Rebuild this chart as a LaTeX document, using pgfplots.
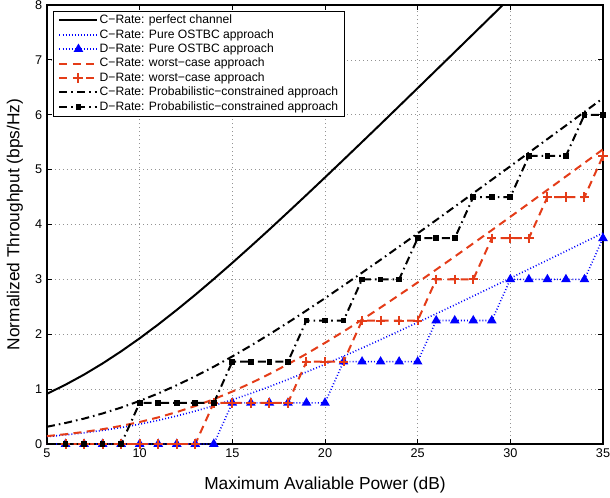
\documentclass[border=0pt]{standalone}
\usepackage{pgfplots}
\pgfplotsset{compat=1.18}
\usepackage{pgfplotstable}
\usepackage{fontspec}
\setmainfont{Liberation Sans}

\definecolor{mred}{RGB}{228,60,24}

% continuous rates (C-Rate)
\pgfplotstableread{
x  perfect ostbc worst prob
5  0.915   0.135 0.144 0.314
6  1.081   0.166 0.178 0.383
7  1.265   0.204 0.220 0.463
8  1.468   0.248 0.270 0.557
9  1.689   0.300 0.330 0.664
10 1.926   0.361 0.401 0.785
11 2.178   0.431 0.485 0.921
12 2.443   0.511 0.582 1.071
13 2.719   0.600 0.692 1.234
14 3.006   0.698 0.817 1.409
15 3.301   0.806 0.956 1.596
16 3.603   0.922 1.109 1.793
17 3.910   1.045 1.275 1.999
18 4.223   1.176 1.454 2.212
19 4.539   1.312 1.643 2.432
20 4.858   1.453 1.843 2.657
21 5.180   1.600 2.050 2.888
22 5.504   1.749 2.266 3.122
23 5.829   1.902 2.487 3.358
24 6.157   2.058 2.714 3.597
25 6.485   2.215 2.944 3.838
26 6.814   2.374 3.179 4.081
27 7.143   2.534 3.416 4.325
28 7.473   2.696 3.656 4.570
29 7.803   2.859 3.897 4.816
30 8.134   3.022 4.140 5.062
31 8.466   3.186 4.385 5.309
32 8.797   3.350 4.630 5.557
33 9.128   3.515 4.876 5.804
34 9.460   3.680 5.123 6.053
35 9.792   3.845 5.370 6.301
}\crate

% discrete rates (D-Rate)
\pgfplotstableread{
x  ostbc worst prob
5  0     0     0
6  0     0     0
7  0     0     0
8  0     0     0
9  0     0     0
10 0     0     0.75
11 0     0     0.75
12 0     0     0.75
13 0     0     0.75
14 0     0.75  0.75
15 0.75  0.75  1.5
16 0.75  0.75  1.5
17 0.75  0.75  1.5
18 0.75  0.75  1.5
19 0.75  1.5   2.25
20 0.75  1.5   2.25
21 1.5   1.5   2.25
22 1.5   2.25  3
23 1.5   2.25  3
24 1.5   2.25  3
25 1.5   2.25  3.75
26 2.25  3     3.75
27 2.25  3     3.75
28 2.25  3     4.5
29 2.25  3.75  4.5
30 3     3.75  4.5
31 3     3.75  5.25
32 3     4.5   5.25
33 3     4.5   5.25
34 3     4.5   6
35 3.75  5.25  6
}\drate

\begin{document}
\begin{tikzpicture}
\begin{axis}[
    name=ax,
    scale only axis,
    width=417pt, height=329.25pt,
    xmin=5, xmax=35, ymin=0, ymax=8,
    xtick={5,10,...,35}, ytick={0,1,...,8},
    grid=major,
    major grid style={dash pattern=on 0.6pt off 2.4pt, gray!85, line width=0.5pt},
    axis line style={line width=0.8pt},
    tick style={black, line width=0.6pt},
    major tick length=4pt,
    /pgf/number format/assume math mode=true,
    tick label style={font=\fontsize{9.5}{11}\selectfont},
    xlabel={Maximum Avaliable Power (dB)},
    ylabel={Normalized Throughput (bps/Hz)},
    label style={font=\fontsize{13}{15}\selectfont},
    xlabel style={at={(axis description cs:0.5,-0.0934)}, anchor=center},
    ylabel style={at={(axis description cs:-0.0576,0.5)}, anchor=center},
    legend cell align=left,
    legend image code/.code={\draw[mark repeat=2,mark phase=2] plot coordinates {(0pt,0pt) (14.25pt,0pt) (28.5pt,0pt)};},
    legend style={at={(axis description cs:0.0103,0.987)}, anchor=north west,
        font=\fontsize{9.1}{10}\selectfont, draw=black, line width=0.6pt,
        inner xsep=4pt, inner ysep=1.5pt, row sep=0pt,
        nodes={inner sep=0.9pt, text height=7pt, text depth=2pt}},
]
\addplot[black, line width=1.5pt] table[x=x, y=perfect] {\crate};
\addlegendentry{C−Rate: perfect channel}
\addplot[blue, line width=1.2pt, dash pattern=on 0.7pt off 1.6pt] table[x=x, y=ostbc] {\crate};
\addlegendentry{C−Rate: Pure OSTBC approach}
\addplot[blue, line width=1.2pt, dash pattern=on 0.7pt off 1.6pt, mark=triangle*, mark size=3pt, mark phase=2, mark options={solid}] table[x=x, y=ostbc] {\drate};
\addlegendentry{D−Rate: Pure OSTBC approach}
\addplot[mred, line width=1.5pt, dash pattern=on 6pt off 4pt] table[x=x, y=worst] {\crate};
\addlegendentry{C−Rate: worst−case approach}
\addplot[mred, line width=1.5pt, dash pattern=on 6pt off 4pt, mark=+, mark size=3.5pt, mark phase=2, mark options={solid, line width=1.5pt}] table[x=x, y=worst] {\drate};
\addlegendentry{D−Rate: worst−case approach}
\addplot[black, line width=1.5pt, dash pattern=on 6pt off 3pt on 1.2pt off 3pt] table[x=x, y=prob] {\crate};
\addlegendentry{C−Rate: Probabilistic−constrained approach}
\addplot[black, line width=1.5pt, dash pattern=on 6pt off 3pt on 1.2pt off 3pt, mark=square*, mark size=1.4pt, mark phase=2, mark options={solid}] table[x=x, y=prob] {\drate};
\addlegendentry{D−Rate: Probabilistic−constrained approach}
\end{axis}
\pgfresetboundingbox
\path[use as bounding box] ([shift={(-35.25pt,-39.75pt)}]ax.south west) rectangle ([shift={(5.25pt,3.75pt)}]ax.north east);
\end{tikzpicture}
\end{document}
